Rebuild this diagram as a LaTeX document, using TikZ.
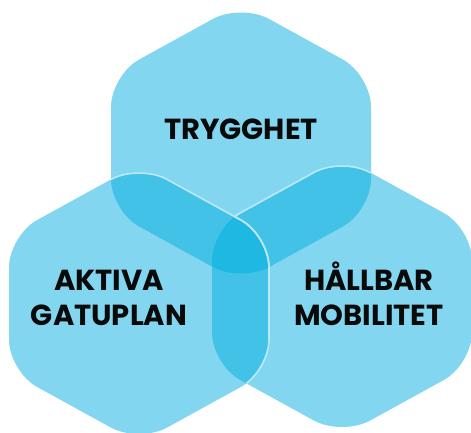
\documentclass[tikz,border=0pt]{standalone}
\usepackage{fontspec}
\setmainfont{Poppins}
\definecolor{cone}{HTML}{82D6F0}
\definecolor{ctwo}{HTML}{43C2E7}
\definecolor{cthree}{HTML}{1FB8E3}
\definecolor{wline}{HTML}{BDE9F7}
\definecolor{ink}{HTML}{0A0A0A}
\newcommand\hexp[2]{({#1-130},{#2}) -- ({#1-130},{#2-68}) -- ({#1},{#2-139.5}) -- ({#1+130},{#2-68}) -- ({#1+130},{#2+68}) -- ({#1},{#2+139.5}) -- ({#1-130},{#2+68}) -- cycle}
\newcommand\hexT{\hexp{241}{143}}
\newcommand\hexL{\hexp{139}{303.5}}
\newcommand\hexR{\hexp{342}{296.5}}
\tikzset{
  rc/.style={rounded corners=32pt},
  edgeline/.style={draw=wline, line width=1.6pt, rounded corners=32pt},
  lab/.style={font=\bfseries\fontsize{29}{35}\selectfont, text=ink, inner sep=0pt, text depth=0pt, anchor=south, align=center}
}
\begin{document}
\begin{tikzpicture}[x=1pt,y=-1pt]
\useasboundingbox (0,0) rectangle (471,432);
% top hexagon
\fill[cone, rc] \hexT;
% right hexagon
\fill[cone, rc] \hexR;
\begin{scope}
  \clip[rc] \hexT;
  \fill[ctwo, rc] \hexR;
  \draw[edgeline] \hexR;
\end{scope}
% left hexagon
\fill[cone, rc] \hexL;
\begin{scope}
  \clip[rc] \hexL;
  \fill[ctwo, rc] \hexT;
  \fill[ctwo, rc] \hexR;
  \clip[rc] \hexT;
  \fill[cthree, rc] \hexR;
\end{scope}
\begin{scope}
  \clip[rc] \hexT;
  \draw[edgeline] \hexL;
\end{scope}
\begin{scope}
  \clip[rc] \hexR;
  \draw[edgeline] \hexL;
\end{scope}
% labels
\node[lab] (trygghet) at (241,139.5) {TRYGGHET};
\node[lab] (aktiva) at (109,325.5) {AKTIVA\\GATUPLAN};
\node[lab] (hallbar) at (369,325.5) {HÅLLBAR\\MOBILITET};
\end{tikzpicture}
\end{document}
